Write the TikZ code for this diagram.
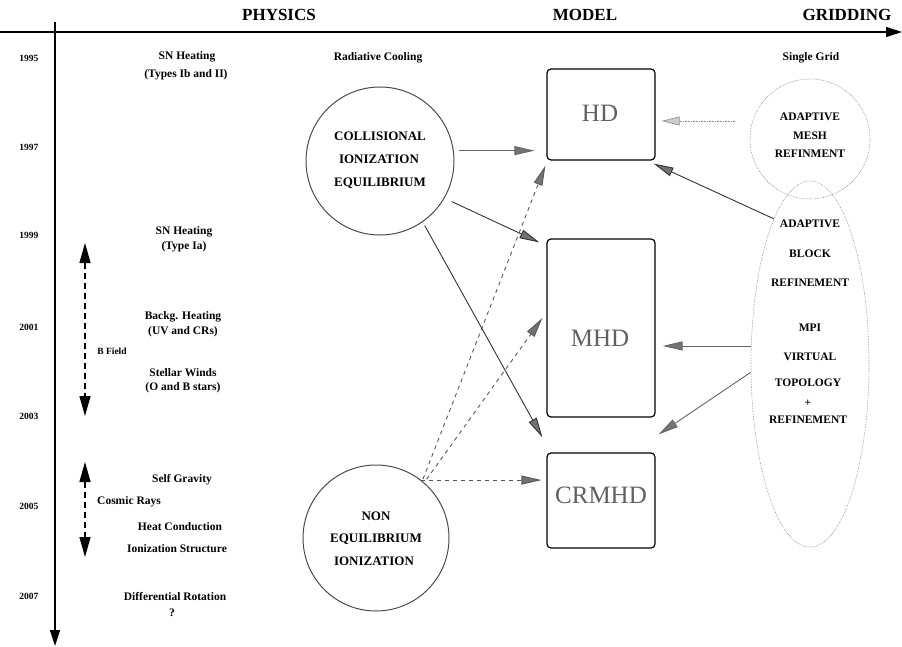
\documentclass[tikz,border=0pt]{standalone}
\usepackage{fontspec}
\setmainfont{Liberation Serif}
\usetikzlibrary{arrows.meta,shapes.geometric}
\begin{document}
\begin{tikzpicture}[x=1pt,y=-1pt,
  lbl/.style={font=\bfseries\fontsize{11.5}{12}\selectfont, inner sep=0pt},
  yr/.style={font=\bfseries\fontsize{9.5}{10}\selectfont, inner sep=0pt},
  ttl/.style={font=\bfseries\fontsize{17}{19}\selectfont, inner sep=0pt},
  big/.style={font=\bfseries\fontsize{13}{15}\selectfont, inner sep=0pt},
  modelbox/.style={draw, line width=1.2pt, rounded corners=4pt, minimum width=108pt, inner sep=0pt},
  mtxt/.style={font=\fontsize{25}{26}\selectfont, text=black!62, inner sep=0pt},
  physcirc/.style={circle, draw=black!70, line width=1pt, minimum size=148pt, inner sep=0pt},
  solidarr/.style={-{Triangle[length=20pt,width=9pt,fill=black!55]}, draw=black!80, line width=0.9pt},
  grayarr/.style={-{Triangle[length=20pt,width=9pt,fill=black!55]}, draw=black!60, line width=0.9pt},
  dasharr/.style={-{Triangle[length=20pt,width=9pt,fill=black!55]}, draw=black!65, line width=0.9pt, dash pattern=on 4pt off 4pt},
  dotarr/.style={-{Triangle[length=18pt,width=9pt,fill=black!20]}, draw=black!45, line width=0.6pt, densely dotted},
  axisarr/.style={-{Triangle[length=16pt,width=10pt]}, line width=1.2pt},
  bfarr/.style={{Triangle[length=20pt,width=11pt]}-{Triangle[length=20pt,width=11pt]}, line width=1.3pt, dash pattern=on 6pt off 4pt}
]
\useasboundingbox (0,0) rectangle (902,647);

% axes
\coordinate (hx0) at (0,32);
\coordinate (hx1) at (902,32);
\coordinate (vy0) at (55,22);
\coordinate (vy1) at (55,646);
\draw[axisarr] (hx0) -- (hx1);
\draw[axisarr] (vy0) -- (vy1);

% titles
\node[ttl] (tphys) at (279,15) {PHYSICS};
\node[ttl] (tmodel) at (585,15) {MODEL};
\node[ttl] (tgrid) at (847,15) {GRIDDING};

% years
\node[yr] (y95) at (29,58) {1995};
\node[yr] (y97) at (29,147) {1997};
\node[yr] (y99) at (29,235) {1999};
\node[yr] (y01) at (29,327) {2001};
\node[yr] (y03) at (29,416) {2003};
\node[yr] (y05) at (29,506) {2005};
\node[yr] (y07) at (29,596) {2007};

% physics labels
\node[lbl] (sn1) at (187,57) {SN Heating};
\node[lbl] (sn1b) at (186,75) {(Types Ib and II)};
\node[lbl] (rad) at (378,58) {Radiative Cooling};
\node[lbl] (sn2) at (184,232) {SN Heating};
\node[lbl] (sn2b) at (184,247) {(Type Ia)};
\node[lbl] (bkg) at (183,317) {Backg. Heating};
\node[lbl] (bkgb) at (183,332) {(UV and CRs)};
\node[lbl, font=\bfseries\fontsize{9.5}{11}\selectfont] (bfield) at (112,351) {B Field};
\node[lbl] (sw) at (183,373) {Stellar Winds};
\node[lbl] (swb) at (183,388) {(O and B stars)};
\node[lbl] (sg) at (182,480) {Self Gravity};
\node[lbl] (cr) at (129,502) {Cosmic Rays};
\node[lbl] (hc) at (180,527) {Heat Conduction};
\node[lbl] (is) at (177,549) {Ionization Structure};
\node[lbl] (dr) at (175,597) {Differential Rotation};
\node[lbl] (qm) at (172,613) {?};

% B field and cosmic rays arrows
\coordinate (bf0) at (85,243);
\coordinate (bf1) at (85,416);
\draw[bfarr] (bf0) -- (bf1);
\coordinate (cr0) at (85,462);
\coordinate (cr1) at (85,557);
\draw[bfarr] (cr0) -- (cr1);

% physics circles
\node[physcirc] (cie) at (380,161) {};
\node[big] (cie1) at (380,136) {COLLISIONAL};
\node[big] (cie2) at (379,159) {IONIZATION};
\node[big] (cie3) at (380,183) {EQUILIBRIUM};

\node[physcirc, minimum size=146pt] (nei) at (376,538) {};
\node[big] (nei1) at (376,516) {NON};
\node[big] (nei2) at (376,539) {EQUILIBRIUM};
\node[big] (nei3) at (374,561) {IONIZATION};

% model boxes
\node[modelbox, minimum height=91pt] (hd) at (601,114.5) {};
\node[modelbox, minimum height=178pt] (mhd) at (601,328) {};
\node[modelbox, minimum height=95pt] (crmhd) at (601,500.5) {};
\node[mtxt] (hdt) at (600,113) {HD};
\node[mtxt] (mhdt) at (600,338) {MHD};
\node[mtxt] (crmhdt) at (601,495) {CRMHD};

% gridding
\node[lbl] (sg1) at (811,58) {Single Grid};
\node[circle, draw=black!50, densely dotted, line width=0.6pt, minimum size=120pt, inner sep=0pt] (amr) at (810,139) {};
\node[lbl] (amr1) at (810,117) {ADAPTIVE};
\node[lbl] (amr2) at (810,136) {MESH};
\node[lbl] (amr3) at (810,154) {REFINMENT};

\node[ellipse, draw=black!50, densely dotted, line width=0.6pt, minimum width=118pt, minimum height=366pt, inner sep=0pt] (abr) at (810,364) {};
\node[lbl] (abr1) at (810,224) {ADAPTIVE};
\node[lbl] (abr2) at (810,254) {BLOCK};
\node[lbl] (abr3) at (810,283) {REFINEMENT};
\node[lbl] (mpi1) at (810,328) {MPI};
\node[lbl] (mpi2) at (810,357) {VIRTUAL};
\node[lbl] (mpi3) at (808,383) {TOPOLOGY};
\node[lbl] (mpi4) at (808,403) {+};
\node[lbl] (mpi5) at (808,420) {REFINEMENT};

% connectors from CIE
\draw[grayarr, shorten <=5pt] (cie.8) -- ([xshift=-12pt]hd.west |- cie.8);
\draw[solidarr, shorten <=8pt] (cie.-30) -- ([xshift=-7pt,yshift=-4pt]mhd.north west);
\draw[solidarr, shorten <=4pt] (cie.-55) -- ([xshift=-4pt,yshift=15pt]crmhd.north west);

% connectors from NEI
\draw[dasharr] (nei.52) -- ([xshift=-5pt]crmhd.west |- nei.52);
\draw[dasharr, shorten <=4pt] (nei.49) -- ([xshift=-4pt,yshift=10pt]mhd.west);
\draw[dasharr, shorten <=2pt] (nei.51) -- ([xshift=-1pt,yshift=-5pt]hd.south west);

% connectors from gridding
\draw[dotarr] ([xshift=-15pt,yshift=18pt]amr.west) -- ([xshift=6pt,yshift=18pt]hd.east |- amr.west);
\draw[solidarr] (abr.104) -- ([xshift=-2pt,yshift=-3pt]hd.south east);
\draw[grayarr] (abr.163) -- ([xshift=7pt]mhd.east |- abr.163);
\draw[grayarr] (abr.188) -- ([xshift=3pt,yshift=18pt]crmhd.north east);
\end{tikzpicture}
\end{document}
